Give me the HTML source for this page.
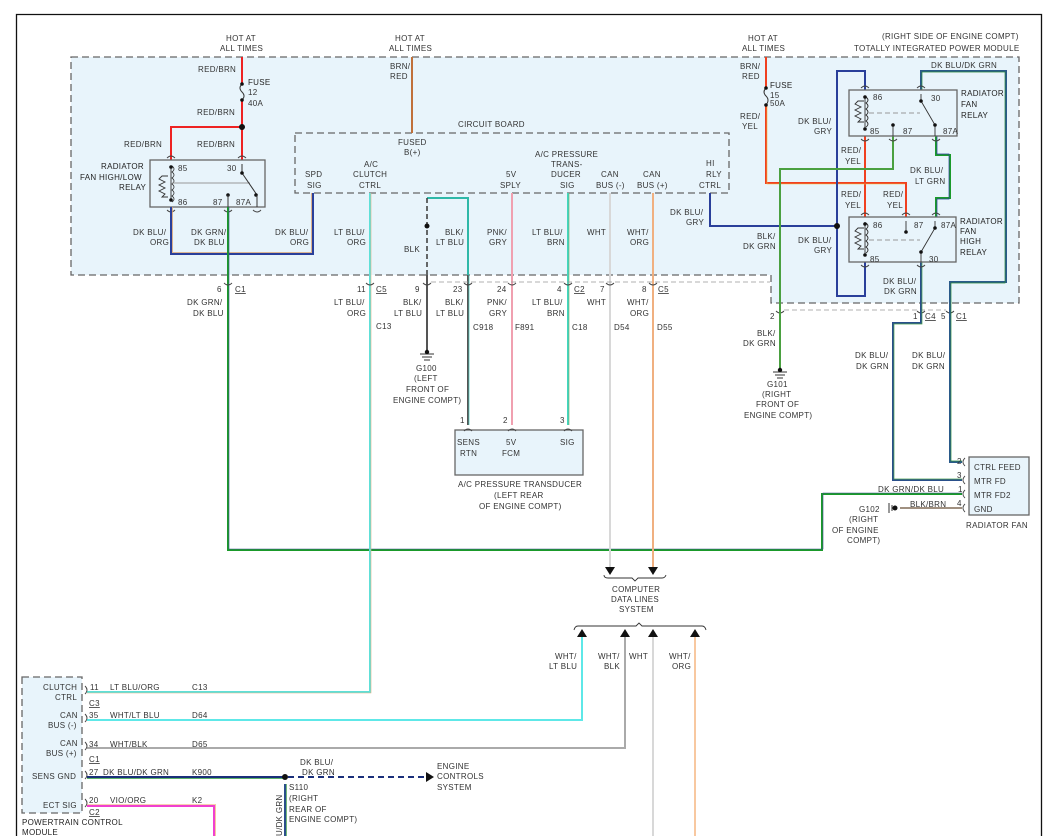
<!DOCTYPE html>
<html><head><meta charset="utf-8"><style>
html,body{margin:0;padding:0;background:#fff;}
svg{display:block;}
text{font-family:"Liberation Sans",sans-serif;font-size:8px;fill:#333;letter-spacing:0.3px;}
.b{fill:#222;}
.box{fill:#e8f4fb;stroke:#666;stroke-width:1.3;}
.dash{fill:#e8f4fb;stroke:#666;stroke-width:1.3;stroke-dasharray:7,4;}
.w{fill:none;stroke-width:2;}
.c{fill:none;stroke:#444;stroke-width:0.9;}
</style></head><body>
<svg width="1057" height="836" viewBox="0 0 1057 836" xmlns="http://www.w3.org/2000/svg">
<path d="M16.5 836 V14.5 H1041.5 V836" fill="none" stroke="#111" stroke-width="1.3"/>

<path class="dash" d="M71 57 H1019 V303 H771 V275 H71 Z"/>
<rect class="dash" x="295" y="133" width="434" height="60"/>
<text x="458" y="127">CIRCUIT BOARD</text>

<text x="226" y="41">HOT AT</text><text x="220" y="51">ALL TIMES</text>
<text x="395" y="41">HOT AT</text><text x="389" y="51">ALL TIMES</text>
<text x="748" y="41">HOT AT</text><text x="742" y="51">ALL TIMES</text>
<text x="882" y="39">(RIGHT SIDE OF ENGINE COMPT)</text>
<text x="854" y="51">TOTALLY INTEGRATED POWER MODULE</text>

<path class="w" stroke="#e22" d="M242 57 V84 M242 100 V160 M242 127 H171 V160"/>
<path d="M242 84 q-4 4 0 8 q4 4 0 8" fill="none" stroke="#333" stroke-width="1"/>
<circle cx="242" cy="84" r="1.8" fill="#111"/><circle cx="242" cy="100" r="1.8" fill="#111"/>
<circle cx="242" cy="127" r="3" fill="#111"/>
<text x="198" y="72">RED/BRN</text>
<text x="248" y="85" class="b">FUSE</text><text x="248" y="95">12</text><text x="248" y="106">40A</text>
<text x="197" y="115">RED/BRN</text>
<text x="124" y="147">RED/BRN</text><text x="197" y="147">RED/BRN</text>
<rect class="box" x="150" y="160" width="115" height="47"/>
<text x="101" y="169" class="b">RADIATOR</text><text x="80" y="180" class="b">FAN HIGH/LOW</text><text x="119" y="190" class="b">RELAY</text>
<path d="M171 166 V200 M168 176 H162 l-3 3 6 3 -6 3 6 3 -6 3 6 3 -3 3 H168" fill="none" stroke="#333" stroke-width="0.9"/>
<path d="M172 166 q4 3 0 6 q4 3 0 6 q4 3 0 6 q4 3 0 6 q4 3 0 6 q4 3 0 6" fill="none" stroke="#333" stroke-width="0.8"/>
<circle cx="171" cy="167" r="1.8" fill="#111"/><circle cx="171" cy="200" r="1.8" fill="#111"/>
<line x1="172" y1="183" x2="250" y2="183" stroke="#999"/>
<path d="M242 164 V173 L257 195" stroke="#333" fill="none"/>
<circle cx="242" cy="173" r="1.8" fill="#111"/><circle cx="256" cy="195" r="1.8" fill="#111"/><circle cx="228" cy="195" r="1.8" fill="#111"/>
<path d="M228 195 V207 M257 195 V207" stroke="#333"/>
<text x="178" y="171">85</text><text x="227" y="171">30</text><text x="178" y="205">86</text><text x="213" y="205">87</text><text x="236" y="205">87A</text>
<path class="c" d="M167 158 q4 -4 8 0 M238 158 q4 -4 8 0 M167 210 q4 4 8 0 M224 210 q4 4 8 0 M253 210 q4 4 8 0"/>
<path class="w" stroke="#2a3f9a" d="M171 207 V254 H313 V193"/>
<path fill="none" stroke="#d8a070" stroke-width="0.8" d="M172.5 207 V252.5 H311.5 V193"/>
<text x="133" y="235">DK BLU/</text><text x="150" y="245">ORG</text>
<text x="191" y="235">DK GRN/</text><text x="194" y="245">DK BLU</text>
<text x="275" y="235">DK BLU/</text><text x="290" y="245">ORG</text>
<path class="w" stroke="#1a9a2a" d="M228 207 V550 H822 V494 H962"/>
<path fill="none" stroke="#3a4f8a" stroke-width="0.6" d="M229 207 V549 H823 V493 H962"/>
<text x="217" y="292">6</text><text x="235" y="292" text-decoration="underline">C1</text>
<text x="187" y="305">DK GRN/</text><text x="193" y="316">DK BLU</text>

<path class="w" stroke="#c0703a" d="M412 57 V133"/>
<text x="390" y="69">BRN/</text><text x="390" y="79">RED</text>
<text x="398" y="145">FUSED</text><text x="404" y="155">B(+)</text>

<text x="305" y="177">SPD</text><text x="307" y="188">SIG</text>
<text x="364" y="167">A/C</text><text x="353" y="177">CLUTCH</text><text x="359" y="188">CTRL</text>
<text x="535" y="157">A/C PRESSURE</text><text x="551" y="167">TRANS-</text><text x="551" y="177">DUCER</text><text x="560" y="188">SIG</text>
<text x="506" y="177">5V</text><text x="500" y="188">SPLY</text>
<text x="601" y="177">CAN</text><text x="596" y="188">BUS (-)</text>
<text x="643" y="177">CAN</text><text x="637" y="188">BUS (+)</text>
<text x="706" y="166">HI</text><text x="706" y="177">RLY</text><text x="699" y="188">CTRL</text>

<path class="w" stroke="#5ee0d8" d="M370 193 V692 H87"/>
<path fill="none" stroke="#e0b080" stroke-width="0.6" d="M371 193 V693 H87"/>
<text x="334" y="235">LT BLU/</text><text x="347" y="245">ORG</text>
<text x="357" y="292">11</text><text x="376" y="292" text-decoration="underline">C5</text>
<text x="334" y="305">LT BLU/</text><text x="347" y="316">ORG</text><text x="376" y="329">C13</text>

<path class="w" stroke="#2fb8a8" d="M427 198 H468 V275" stroke-width="1.6"/>
<path d="M427 198 V275" stroke="#444" stroke-width="1.6" stroke-dasharray="5,3"/>
<circle cx="427" cy="226" r="2.5" fill="#111"/>
<text x="404" y="252">BLK</text>
<text x="445" y="235">BLK/</text><text x="436" y="245">LT BLU</text>
<path d="M427 275 V352" stroke="#555" stroke-width="2"/>
<path d="M420 354 H434 M422 357 H432 M424 360 H430" stroke="#333"/><circle cx="427" cy="352" r="2.2" fill="#111"/>
<text x="415" y="292">9</text>
<text x="403" y="305">BLK/</text><text x="394" y="316">LT BLU</text>
<text x="416" y="371">G100</text><text x="414" y="381">(LEFT</text><text x="406" y="392">FRONT OF</text><text x="393" y="403">ENGINE COMPT)</text>
<path class="w" stroke="#555" d="M468 275 V425"/>
<path fill="none" stroke="#40c8b8" stroke-width="0.7" d="M469 275 V425"/>
<text x="453" y="292">23</text>
<text x="445" y="305">BLK/</text><text x="436" y="316">LT BLU</text><text x="473" y="330">C918</text>

<path class="w" stroke="#f0a0b0" d="M512 193 V425"/>
<text x="487" y="235">PNK/</text><text x="489" y="245">GRY</text>
<text x="497" y="292">24</text>
<text x="487" y="305">PNK/</text><text x="489" y="316">GRY</text><text x="515" y="330">F891</text>

<path class="w" stroke="#40d8c0" d="M568 193 V425"/>
<path fill="none" stroke="#80a060" stroke-width="0.6" d="M569 193 V425"/>
<text x="532" y="235">LT BLU/</text><text x="547" y="245">BRN</text>
<text x="557" y="292">4</text><text x="574" y="292" text-decoration="underline">C2</text>
<text x="532" y="305">LT BLU/</text><text x="547" y="316">BRN</text><text x="572" y="330">C18</text>

<path class="w" stroke="#d8d8d8" d="M610 193 V570"/>
<text x="587" y="235">WHT</text><text x="600" y="292">7</text><text x="587" y="305">WHT</text><text x="614" y="330">D54</text>
<path class="w" stroke="#f0b080" d="M653 193 V570"/>
<text x="627" y="235">WHT/</text><text x="630" y="245">ORG</text>
<text x="642" y="292">8</text><text x="658" y="292" text-decoration="underline">C5</text>
<text x="627" y="305">WHT/</text><text x="630" y="316">ORG</text><text x="657" y="330">D55</text>

<path class="c" d="M224 283 q4 4 8 0 M366 283 q4 4 8 0 M423 283 q4 4 8 0 M464 283 q4 4 8 0 M508 283 q4 4 8 0 M564 283 q4 4 8 0 M606 283 q4 4 8 0 M649 283 q4 4 8 0 M776 311 q4 4 8 0 M917 311 q4 4 8 0 M946 311 q4 4 8 0"/>
<path d="M431 282 H770" stroke="#999" stroke-width="0.8" stroke-dasharray="5,3"/>
<path d="M784 310 H946" stroke="#999" stroke-width="0.8" stroke-dasharray="5,3"/>

<rect class="box" x="455" y="430" width="128" height="45"/>
<path class="c" d="M464 431 q4 -4 8 0 M508 431 q4 -4 8 0 M564 431 q4 -4 8 0"/>
<text x="460" y="423">1</text><text x="503" y="423">2</text><text x="560" y="423">3</text>
<text x="457" y="445">SENS</text><text x="460" y="456">RTN</text>
<text x="506" y="445">5V</text><text x="502" y="456">FCM</text><text x="560" y="445">SIG</text>
<text x="458" y="487">A/C PRESSURE TRANSDUCER</text><text x="494" y="498">(LEFT REAR</text><text x="479" y="509">OF ENGINE COMPT)</text>

<path d="M605 567 L615 567 L610 575 Z M648 567 L658 567 L653 575 Z" fill="#111"/>
<path d="M604 575 q0 3 4 3 H632 l3 3 3 -3 H662 q3 0 4 -3" fill="none" stroke="#333" stroke-width="0.9"/>
<text x="612" y="592">COMPUTER</text><text x="611" y="602">DATA LINES</text><text x="619" y="612">SYSTEM</text>
<path d="M574 630 q1 -4 4 -4 H636 l3 -3 3 3 H702 q3 0 4 4" fill="none" stroke="#333" stroke-width="0.9"/>
<path d="M577 637 L587 637 L582 629 Z M620 637 L630 637 L625 629 Z M648 637 L658 637 L653 629 Z M690 637 L700 637 L695 629 Z" fill="#111"/>
<path class="w" stroke="#5ee8e8" d="M582 637 V720 H87"/>
<path class="w" stroke="#aaa" d="M625 637 V748 H87"/>
<path class="w" stroke="#d8d8d8" d="M653 637 V836"/>
<path class="w" stroke="#f8c8a0" d="M695 637 V836"/>
<text x="555" y="659">WHT/</text><text x="549" y="669">LT BLU</text>
<text x="598" y="659">WHT/</text><text x="604" y="669">BLK</text>
<text x="629" y="659">WHT</text>
<text x="669" y="659">WHT/</text><text x="672" y="669">ORG</text>

<path class="w" stroke="#2a3f9a" d="M710 193 V226 H837"/>
<text x="670" y="215">DK BLU/</text><text x="686" y="225">GRY</text>

<path class="w" stroke="#f04020" d="M766 57 V88 M766 105 V183 H906 V217 M865 136 V217"/>
<path fill="none" stroke="#f0c040" stroke-width="0.6" d="M767 105 V184 H905"/>
<path d="M766 88 q-4 4 0 8 q4 4 0 9" fill="none" stroke="#333" stroke-width="1"/>
<circle cx="766" cy="88" r="1.8" fill="#111"/><circle cx="766" cy="105" r="1.8" fill="#111"/>
<text x="740" y="69">BRN/</text><text x="742" y="79">RED</text>
<text x="770" y="88" class="b">FUSE</text><text x="770" y="98">15</text><text x="770" y="106">50A</text>
<text x="740" y="119">RED/</text><text x="742" y="129">YEL</text>
<path class="w" stroke="#2a3f9a" d="M865 90 V71 H837 V296 H865 V262"/>
<circle cx="837" cy="226" r="3" fill="#111"/>
<path class="w" stroke="#2a5a8a" d="M921 90 V71 H1006 V282 H950 V462 H962"/>
<path fill="none" stroke="#2a8a3a" stroke-width="0.7" d="M922 90 V72 H1005 V283 H951 V461 H962"/>
<text x="931" y="68">DK BLU/DK GRN</text>
<path class="w" stroke="#4aa040" d="M893 136 V169 H780 V370"/>
<path d="M773 372 H787 M775 375 H785 M777 378 H783" stroke="#333"/><circle cx="780" cy="370" r="2.2" fill="#111"/>
<path class="w" stroke="#1a9a2a" d="M936 136 V155 H950 V198 H936 V217"/>
<path fill="none" stroke="#2a3f9a" stroke-width="0.7" d="M937 136 V154 H949 V199 H937 V217"/>
<path class="w" stroke="#2a4f8a" d="M921 262 V323 H893 V480 H962"/>
<path fill="none" stroke="#4aa050" stroke-width="0.7" d="M922 262 V324 H894 V479 H962"/>
<path class="w" stroke="#a09080" d="M900 508 H962"/>

<rect class="box" x="849" y="90" width="108" height="46"/>
<rect class="box" x="849" y="217" width="107" height="45"/>
<path class="c" d="M861 88 q4 -4 8 0 M917 88 q4 -4 8 0 M861 139 q4 4 8 0 M889 139 q4 4 8 0 M932 139 q4 4 8 0 M861 215 q4 -4 8 0 M902 215 q4 -4 8 0 M932 215 q4 -4 8 0 M861 265 q4 4 8 0 M917 265 q4 4 8 0"/>
<g stroke="#333" fill="none" stroke-width="0.9">
<path d="M865 96 V129 M864 101 H858 l-3 3 6 3 -6 3 6 3 -6 3 6 3 -3 3 H864"/>
<path d="M866 97 q4 3 0 6 q4 3 0 6 q4 3 0 6 q4 3 0 6 q4 3 0 6"/>
<path d="M921 94 V101 L935 125 V136 M893 125 V136"/>
<path d="M865 222 V256 M864 228 H858 l-3 3 6 3 -6 3 6 3 -6 3 6 3 -3 3 H864"/>
<path d="M866 223 q4 3 0 6 q4 3 0 6 q4 3 0 6 q4 3 0 6 q4 3 0 6"/>
<path d="M921 262 V252 L935 228 V221 M906 221 V232"/>
</g>
<path d="M869 113 H920 M869 240 H920" stroke="#999" stroke-dasharray="5,3"/>
<g fill="#111">
<circle cx="865" cy="97" r="1.8"/><circle cx="865" cy="129" r="1.8"/><circle cx="921" cy="101" r="1.8"/><circle cx="935" cy="125" r="1.8"/><circle cx="893" cy="125" r="1.8"/>
<circle cx="865" cy="224" r="1.8"/><circle cx="865" cy="255" r="1.8"/><circle cx="921" cy="252" r="1.8"/><circle cx="935" cy="228" r="1.8"/><circle cx="906" cy="232" r="1.8"/>
</g>
<text x="873" y="100">86</text><text x="931" y="101">30</text><text x="870" y="134">85</text><text x="903" y="134">87</text><text x="943" y="134">87A</text>
<text x="873" y="228">86</text><text x="914" y="228">87</text><text x="941" y="228">87A</text><text x="870" y="262">85</text><text x="929" y="262">30</text>
<text x="961" y="96" class="b">RADIATOR</text><text x="961" y="107" class="b">FAN</text><text x="961" y="118" class="b">RELAY</text>
<text x="960" y="224" class="b">RADIATOR</text><text x="960" y="234" class="b">FAN</text><text x="960" y="244" class="b">HIGH</text><text x="960" y="255" class="b">RELAY</text>
<text x="798" y="124">DK BLU/</text><text x="814" y="134">GRY</text>
<text x="841" y="153">RED/</text><text x="845" y="164">YEL</text>
<text x="910" y="173">DK BLU/</text><text x="915" y="184">LT GRN</text>
<text x="841" y="197">RED/</text><text x="845" y="208">YEL</text>
<text x="883" y="197">RED/</text><text x="887" y="208">YEL</text>
<text x="757" y="239">BLK/</text>
<text x="743" y="249">DK GRN</text>
<text x="798" y="243">DK BLU/</text><text x="814" y="253">GRY</text>
<text x="883" y="284">DK BLU/</text><text x="884" y="294">DK GRN</text>
<text x="770" y="319">2</text><text x="913" y="319">1</text><text x="925" y="319" text-decoration="underline">C4</text>
<text x="941" y="319">5</text><text x="956" y="319" text-decoration="underline">C1</text>
<text x="757" y="336">BLK/</text><text x="743" y="346">DK GRN</text>
<text x="767" y="387">G101</text><text x="762" y="397">(RIGHT</text><text x="756" y="407">FRONT OF</text><text x="744" y="418">ENGINE COMPT)</text>
<text x="855" y="358">DK BLU/</text><text x="856" y="369">DK GRN</text>
<text x="912" y="358">DK BLU/</text><text x="912" y="369">DK GRN</text>

<rect class="box" x="969" y="457" width="60" height="58"/>
<path class="c" d="M965 458 q-4 4 0 8 M965 476 q-4 4 0 8 M965 490 q-4 4 0 8 M965 504 q-4 4 0 8"/>
<text x="957" y="464">2</text><text x="957" y="478">3</text><text x="958" y="492">1</text><text x="957" y="506">4</text>
<text x="974" y="470">CTRL FEED</text><text x="974" y="484">MTR FD</text><text x="974" y="498">MTR FD2</text><text x="974" y="512">GND</text>
<text x="966" y="528">RADIATOR FAN</text>
<text x="878" y="492">DK GRN/DK BLU</text>
<text x="910" y="507">BLK/BRN</text>
<path d="M889 503 V513 M892 505 V511" stroke="#333"/><circle cx="895" cy="508" r="2.5" fill="#111"/>
<text x="859" y="512">G102</text><text x="849" y="522">(RIGHT</text><text x="832" y="533">OF ENGINE</text><text x="847" y="543">COMPT)</text>

<rect class="dash" x="22" y="677" width="60" height="136"/>
<path class="c" d="M85 686 q4 4 0 8 M85 714 q4 4 0 8 M85 742 q4 4 0 8 M85 771 q4 4 0 8 M85 799 q4 4 0 8"/>
<text x="43" y="690">CLUTCH</text><text x="55" y="700">CTRL</text>
<text x="60" y="718">CAN</text><text x="48" y="728">BUS (-)</text>
<text x="60" y="746">CAN</text><text x="46" y="756">BUS (+)</text>
<text x="32" y="779">SENS GND</text><text x="43" y="808">ECT SIG</text>
<text x="90" y="690">11</text><text x="110" y="690">LT BLU/ORG</text><text x="192" y="690">C13</text>
<text x="89" y="706" text-decoration="underline">C3</text>
<text x="89" y="718">35</text><text x="110" y="718">WHT/LT BLU</text><text x="192" y="718">D64</text>
<text x="89" y="747">34</text><text x="110" y="747">WHT/BLK</text><text x="192" y="747">D65</text>
<text x="89" y="762" text-decoration="underline">C1</text>
<text x="89" y="775">27</text><text x="103" y="775">DK BLU/DK GRN</text><text x="192" y="775">K900</text>
<text x="89" y="803">20</text><text x="110" y="803">VIO/ORG</text><text x="192" y="803">K2</text>
<text x="89" y="815" text-decoration="underline">C2</text>
<text x="22" y="825" class="b">POWERTRAIN CONTROL</text><text x="22" y="835" class="b">MODULE</text>
<path class="w" stroke="#1a2f7a" d="M87 777 H285"/>
<path fill="none" stroke="#2a9a3a" stroke-width="0.7" d="M87 778.5 H285"/>
<circle cx="285" cy="777" r="3" fill="#111"/>
<path d="M288 777 H428" stroke="#1a2f7a" stroke-width="2" stroke-dasharray="6,4"/>
<path d="M426 772 L434 777 L426 782 Z" fill="#111"/>
<text x="300" y="765">DK BLU/</text><text x="302" y="775">DK GRN</text>
<text x="437" y="769">ENGINE</text><text x="437" y="779">CONTROLS</text><text x="437" y="790">SYSTEM</text>
<path class="w" stroke="#2a4f8a" d="M285 784 V836"/>
<path fill="none" stroke="#3a9a40" stroke-width="0.7" d="M286.5 784 V836"/>
<text transform="translate(282 836) rotate(-90)">U/DK GRN</text>
<text x="289" y="790">S110</text><text x="289" y="801">(RIGHT</text><text x="289" y="812">REAR OF</text><text x="289" y="822">ENGINE COMPT)</text>
<path class="w" stroke="#f040d0" d="M87 806 H214 V836"/>
<path fill="none" stroke="#f0a060" stroke-width="0.6" d="M87 804.5 H215.5 V836"/>
</svg>
</body></html>
